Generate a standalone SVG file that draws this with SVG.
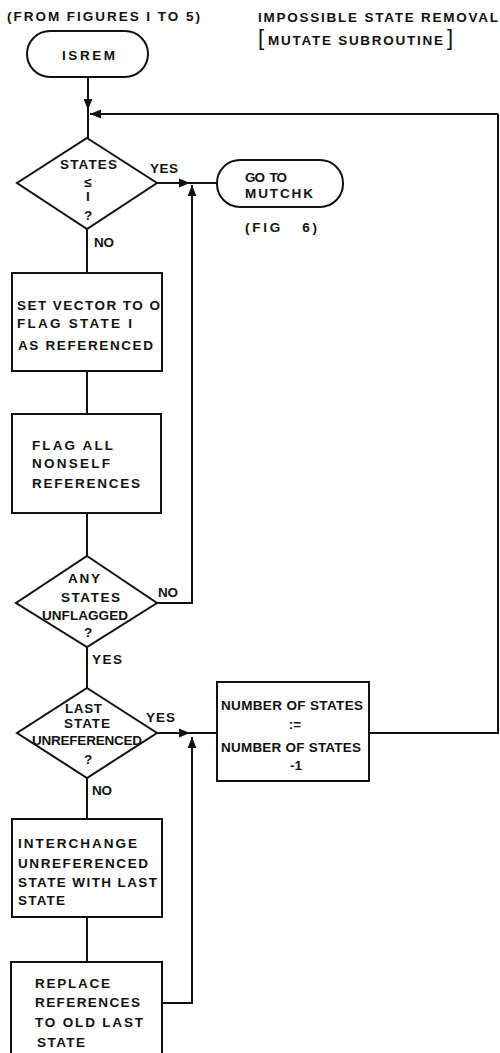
<svg xmlns="http://www.w3.org/2000/svg" width="500" height="1053" viewBox="0 0 500 1053">
<defs>
<style>
.s{fill:none;stroke:#111;stroke-width:2}
.t{font-family:"Liberation Sans",Arial,sans-serif;font-size:13.5px;font-weight:bold;fill:#111}
.c{text-anchor:middle}
.n{fill:#fff;stroke:#111;stroke-width:2}
</style>
<marker id="a" viewBox="0 0 10 10" refX="10" refY="5" markerWidth="20" markerHeight="11" markerUnits="userSpaceOnUse" orient="auto">
<path d="M0,1 L10,5 L0,9 z" fill="#111"/>
</marker>
</defs>
<rect width="500" height="1053" fill="#fff"/>
<g id="titles">
<text class="t" x="7" y="21" textLength="193">(FROM FIGURES I TO 5)</text>
<text class="t" x="258" y="22" textLength="240">IMPOSSIBLE STATE REMOVAL</text>
<text class="t" x="258" y="45"><tspan font-size="22" font-weight="normal">[</tspan><tspan x="268" textLength="175">MUTATE SUBROUTINE</tspan><tspan x="447" font-size="22" font-weight="normal">]</tspan></text>
</g>
<g id="connectors">
<path class="s" d="M88,77 V138"/>
<path class="s" d="M88,77 V110" marker-end="url(#a)"/>
<path class="s" d="M498,114 H90" marker-end="url(#a)"/>
<path class="s" d="M369,733 H498 V114"/>
<path class="s" d="M157,183 H217"/>
<path class="s" d="M157,183 H190" marker-end="url(#a)"/>
<path class="s" d="M157,603 H192 V185" marker-end="url(#a)"/>
<path class="s" d="M87,229 V273"/>
<path class="s" d="M87,371 V414"/>
<path class="s" d="M87,513 V556"/>
<path class="s" d="M87,647 V688"/>
<path class="s" d="M157,733 H217"/>
<path class="s" d="M157,733 H190" marker-end="url(#a)"/>
<path class="s" d="M162,1003 H192 V737" marker-end="url(#a)"/>
<path class="s" d="M87,778 V819"/>
<path class="s" d="M87,917 V962"/>
</g>
<g id="labels">
<text class="t" x="150" y="173" textLength="28">YES</text>
<text class="t" x="94" y="247" textLength="20">NO</text>
<text class="t" x="158" y="597" textLength="20">NO</text>
<text class="t" x="92" y="664" textLength="30">YES</text>
<text class="t" x="146" y="722" textLength="29">YES</text>
<text class="t" x="92" y="795" textLength="20">NO</text>
<text class="t" x="245" y="232" textLength="72" xml:space="preserve">(FIG   6)</text>
</g>
<g id="isrem">
<rect class="n" x="27" y="31" width="121" height="46" rx="23"/>
<text class="t" x="62" y="60" textLength="53">ISREM</text>
</g>
<g id="d1">
<polygon class="n" points="87,138 157,183 87,229 17,183"/>
<text class="t" x="60" y="169" textLength="57">STATES</text>
<text class="t c" x="88" y="187" font-size="15">≤</text>
<text class="t c" x="88" y="201" font-weight="normal">I</text>
<text class="t c" x="88" y="220" font-weight="normal">?</text>
</g>
<g id="mutchk">
<rect class="n" x="217" y="160" width="126" height="47" rx="23"/>
<text class="t" x="245" y="182" textLength="42" xml:space="preserve">GO  TO</text>
<text class="t" x="245" y="198" textLength="68">MUTCHK</text>
</g>
<g id="b1">
<rect class="n" x="12" y="273" width="150" height="98"/>
<text class="t" x="17" y="310" textLength="143">SET VECTOR TO O</text>
<text class="t" x="17" y="328" textLength="115">FLAG STATE I</text>
<text class="t" x="18" y="350" textLength="135">AS REFERENCED</text>
</g>
<g id="b2">
<rect class="n" x="12" y="414" width="149" height="99"/>
<text class="t" x="32" y="450" textLength="81">FLAG ALL</text>
<text class="t" x="32" y="468" textLength="78">NONSELF</text>
<text class="t" x="32" y="488" textLength="108">REFERENCES</text>
</g>
<g id="d2">
<polygon class="n" points="87,556 157,603 87,647 16,603"/>
<text class="t" x="68" y="583" textLength="32">ANY</text>
<text class="t" x="61" y="602" textLength="59">STATES</text>
<text class="t" x="42" y="620" textLength="86">UNFLAGGED</text>
<text class="t c" x="88" y="637" font-weight="normal">?</text>
</g>
<g id="d3">
<polygon class="n" points="87,688 157,733 87,778 17,733"/>
<text class="t" x="65" y="713" textLength="37">LAST</text>
<text class="t" x="64" y="728" textLength="46">STATE</text>
<text class="t" x="32" y="745" textLength="110">UNREFERENCED</text>
<text class="t c" x="88" y="764" font-weight="normal">?</text>
</g>
<g id="num">
<rect class="n" x="217" y="682" width="152" height="99"/>
<text class="t" x="221" y="710" textLength="142">NUMBER OF STATES</text>
<text class="t c" x="295" y="729">:=</text>
<text class="t" x="221" y="752" textLength="140">NUMBER OF STATES</text>
<text class="t c" x="296" y="770">-1</text>
</g>
<g id="b4">
<rect class="n" x="12" y="819" width="150" height="98"/>
<text class="t" x="18" y="848" textLength="119">INTERCHANGE</text>
<text class="t" x="18" y="868" textLength="130">UNREFERENCED</text>
<text class="t" x="18" y="887" textLength="139">STATE WITH LAST</text>
<text class="t" x="18" y="905" textLength="47">STATE</text>
</g>
<g id="b5">
<rect class="n" x="11" y="962" width="151" height="110"/>
<text class="t" x="35" y="988" textLength="75">REPLACE</text>
<text class="t" x="35" y="1007" textLength="105">REFERENCES</text>
<text class="t" x="35" y="1027" textLength="108">TO OLD LAST</text>
<text class="t" x="37" y="1047" textLength="48">STATE</text>
</g>
</svg>
